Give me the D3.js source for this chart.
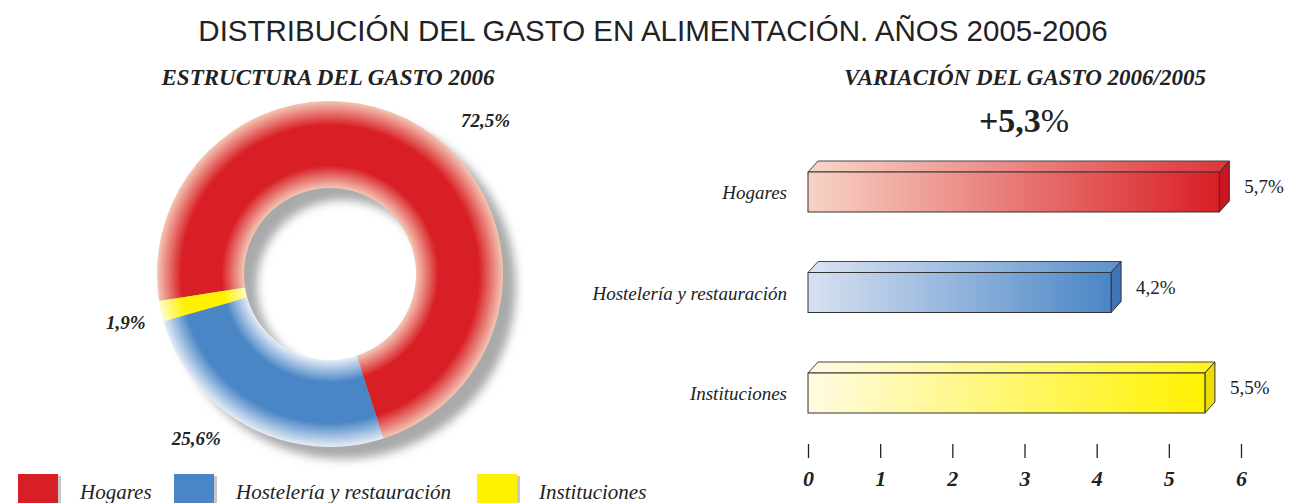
<!DOCTYPE html>
<html lang="es">
<head>
  <meta charset="UTF-8">
  <title>Distribución del gasto en alimentación 2005-2006</title>
  <style>
    body { margin: 0; background: #fff; }
    svg { display: block; }
    .serif { font-family: "Liberation Serif", "DejaVu Serif", serif; }
    .axis .domain { display: none; }
    .axis line { stroke: #222; stroke-width: 1.3px; }
  </style>
</head>
<body>
  <svg width="1289" height="503"></svg>
  <script src="https://d3js.org/d3.v7.min.js"></script>
  <script>
    // data
    const categories = ["Hogares", "Hostelería y restauración", "Instituciones"];
    const share2006 = [72.5, 25.6, 1.9];       // % estructura del gasto 2006
    const variation = [5.7, 4.2, 5.5];         // % variación 2006/2005
    const totalVariation = 5.3;
    const xTicks = [0, 1, 2, 3, 4, 5, 6];

    const midColors = ["#d91f26", "#4a86c6", "#fff200"];
    const edgeColors = ["#f4c6b4", "#e6edf7", "#fffbc8"];
    const barLight = ["#f7d3c5", "#d8e1f1", "#fffbe2"];
    const sideColors = ["#c8171e", "#3f74b6", "#eedd00"];

    const num = v => d3.format(".1f")(v).replace(".", ",");
    const fmt = v => num(v) + "%";

    const svg = d3.select("svg");
    const defs = svg.append("defs");

    // main title
    svg.append("text")
      .attr("x", 653).attr("y", 41)
      .attr("text-anchor", "middle")
      .style("font-family", "'Liberation Sans', Arial, sans-serif")
      .style("font-size", "29.5px")
      .style("fill", "#222")
      .text("DISTRIBUCIÓN DEL GASTO EN ALIMENTACIÓN. AÑOS 2005-2006");

    // ---------- donut ----------
    const cx = 330, cy = 274, rOut = 173, rIn = 86;
    const g = svg.append("g").attr("transform", `translate(${cx},${cy})`);

    svg.append("text").attr("class", "serif")
      .attr("x", 328).attr("y", 85)
      .attr("text-anchor", "middle")
      .style("font-size", "23px").style("font-weight", "bold").style("font-style", "italic")
      .style("fill", "#222")
      .text("ESTRUCTURA DEL GASTO 2006");

    const blur = defs.append("filter").attr("id", "blur")
      .attr("x", "-20%").attr("y", "-20%").attr("width", "140%").attr("height", "140%");
    blur.append("feGaussianBlur").attr("stdDeviation", 5);

    const arc = d3.arc().innerRadius(rIn).outerRadius(rOut);
    const ring = d3.arc().innerRadius(rIn).outerRadius(rOut)
      .startAngle(0).endAngle(2 * Math.PI);

    g.append("path")
      .attr("d", ring())
      .attr("transform", "translate(13,12)")
      .attr("fill", "#a9a9a9")
      .attr("filter", "url(#blur)");

    const inR = rIn / rOut;
    categories.forEach((c, i) => {
      const rg = defs.append("radialGradient").attr("id", "rg" + i)
        .attr("gradientUnits", "userSpaceOnUse")
        .attr("cx", 0).attr("cy", 0).attr("r", rOut);
      [[0, edgeColors[i]], [inR, edgeColors[i]], [inR + 0.13, midColors[i]],
       [0.86, midColors[i]], [1, edgeColors[i]]].forEach(([o, col]) =>
        rg.append("stop").attr("offset", o).attr("stop-color", col));
    });

    const start = -99 * Math.PI / 180;
    const pie = d3.pie().sort(null).value(d => d)
      .startAngle(start).endAngle(start + 2 * Math.PI);
    const arcs = pie(share2006);

    g.selectAll("path.slice").data(arcs).join("path")
      .attr("class", "slice")
      .attr("d", arc)
      .attr("fill", (d, i) => `url(#rg${i})`);

    // label angle tweaks (degrees) and radius per slice
    const labelShift = [14, 11, -1];
    const labelR = [218, 212, 210];
    g.selectAll("text.pl").data(arcs).join("text")
      .attr("class", "pl serif")
      .attr("transform", (d, i) => {
        const a = (d.startAngle + d.endAngle) / 2 + labelShift[i] * Math.PI / 180;
        return `translate(${Math.sin(a) * labelR[i]},${-Math.cos(a) * labelR[i] + 6})`;
      })
      .attr("text-anchor", "middle")
      .style("font-size", "19px").style("font-weight", "bold").style("font-style", "italic")
      .style("fill", "#222")
      .text(d => fmt(d.data));

    // ---------- bars ----------
    const x = d3.scaleLinear().domain([0, 6]).range([808, 1241]);
    const y = d3.scalePoint().domain(categories).range([192, 393]);
    const bh = 40, dx = 10, dy = 11;

    svg.append("text").attr("class", "serif")
      .attr("x", 1025).attr("y", 85)
      .attr("text-anchor", "middle")
      .style("font-size", "23px").style("font-weight", "bold").style("font-style", "italic")
      .style("fill", "#222")
      .text("VARIACIÓN DEL GASTO 2006/2005");

    const tot = svg.append("text").attr("class", "serif")
      .attr("x", 1024).attr("y", 132)
      .attr("text-anchor", "middle")
      .style("font-size", "34px")
      .style("fill", "#222");
    tot.append("tspan").style("font-weight", "bold").text("+" + num(totalVariation));
    tot.append("tspan").text("%");

    categories.forEach((c, i) => {
      const lg = defs.append("linearGradient").attr("id", "lg" + i);
      lg.append("stop").attr("offset", 0).attr("stop-color", barLight[i]);
      lg.append("stop").attr("offset", 1).attr("stop-color", midColors[i]);
    });

    const bars = svg.selectAll("g.bar").data(categories).join("g").attr("class", "bar");
    bars.each(function (c, i) {
      const b = d3.select(this);
      const x0 = x(0), x1 = x(variation[i]);
      const top = y(c) - bh / 2, bot = y(c) + bh / 2;
      b.append("polygon")
        .attr("points", [[x0, top], [x0 + dx, top - dy], [x1 + dx, top - dy], [x1, top]].join(" "))
        .attr("fill", `url(#lg${i})`).attr("opacity", 0.9)
        .attr("stroke", "#333").attr("stroke-width", 1).attr("stroke-linejoin", "round");
      b.append("polygon")
        .attr("points", [[x1, top], [x1 + dx, top - dy], [x1 + dx, bot - dy], [x1, bot]].join(" "))
        .attr("fill", sideColors[i])
        .attr("stroke", "#333").attr("stroke-width", 1).attr("stroke-linejoin", "round");
      b.append("rect")
        .attr("x", x0).attr("y", top).attr("width", x1 - x0).attr("height", bh)
        .attr("fill", `url(#lg${i})`)
        .attr("stroke", "#333").attr("stroke-width", 1);
      b.append("text").attr("class", "serif")
        .attr("x", 787).attr("y", y(c) + 7)
        .attr("text-anchor", "end")
        .style("font-size", "19px").style("font-style", "italic").style("fill", "#222")
        .text(c);
      b.append("text").attr("class", "serif")
        .attr("x", x1 + 25).attr("y", y(c) + 1)
        .style("font-size", "19px").style("fill", "#222")
        .text(fmt(variation[i]));
    });

    const axis = d3.axisBottom(x).tickValues(xTicks).tickSize(14).tickPadding(12)
      .tickFormat(d3.format("d"));
    svg.append("g").attr("class", "axis serif")
      .attr("transform", "translate(0,444)")
      .call(axis)
      .call(s => s.selectAll("text")
        .style("font-family", "'Liberation Serif', serif")
        .style("font-size", "22px").style("font-weight", "bold").style("font-style", "italic")
        .style("fill", "#222"));

    // ---------- legend ----------
    const legX = [18, 174, 477];
    const leg = svg.selectAll("g.leg").data(categories).join("g").attr("class", "leg")
      .attr("transform", (d, i) => `translate(${legX[i]},474)`);
    leg.append("rect").attr("x", 3).attr("y", 2).attr("width", 40).attr("height", 32).attr("fill", "#c8c8c8");
    leg.append("rect").attr("width", 40).attr("height", 32).attr("fill", (d, i) => midColors[i]);
    leg.append("text").attr("class", "serif")
      .attr("x", 62).attr("y", 25)
      .style("font-size", "21px").style("font-style", "italic").style("fill", "#222")
      .text(d => d);
  </script>
</body>
</html>
